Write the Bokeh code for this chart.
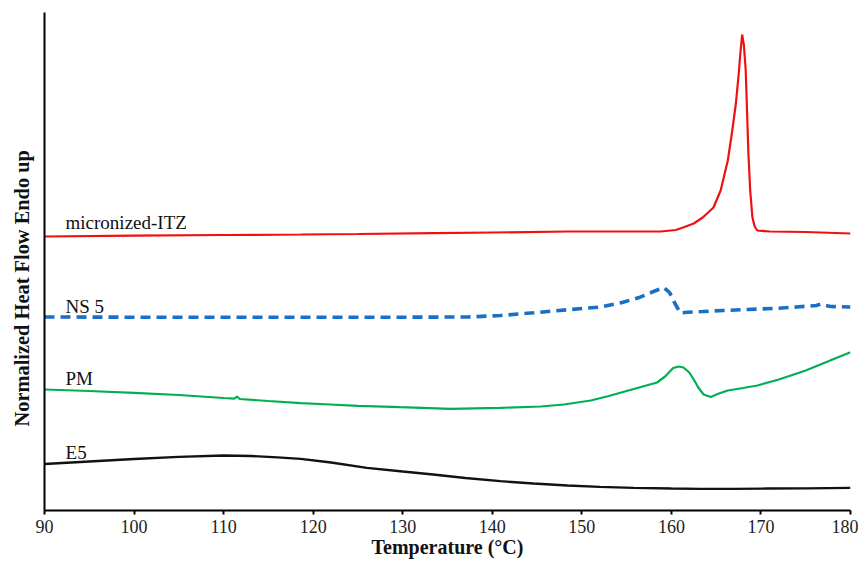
from bokeh.plotting import figure
from bokeh.models import Range1d, FixedTicker, Title
from bokeh.core.properties import value
from bokeh.embed import file_html
from bokeh.resources import INLINE

# ---- data (temperature in °C, normalized heat flow in arbitrary units, endo up) ----
itz_t = [90, 100, 110, 118.6, 125, 133.4, 140, 148.4, 155, 158.8, 160.5, 161.3, 162.5, 163.5,
         164.7, 165.5, 166.3, 166.8, 167.2, 167.5, 167.7, 167.9, 168.1, 168.3, 168.6, 168.8,
         169.05, 169.3, 169.6, 171, 175, 180]
itz_hf = [274, 274.8, 275.5, 276, 276.5, 277.3, 278, 279, 279, 279, 280.5, 283, 287, 293,
          303, 320, 350, 380, 407, 435, 457, 476, 465, 440, 357, 320,
          293, 284, 280, 279, 278.5, 277]

ns5_t = [90, 100, 110, 120, 130, 137.2, 140.9, 144.6, 148.4, 152.1, 154.5, 156.5, 158, 159.15,
         159.8, 160.4, 161.0, 161.8, 163.5, 165.8, 168.5, 171.4, 174, 176.2, 176.65, 177.1,
         177.75, 180]
ns5_hf = [193.5, 193.3, 193.3, 193.3, 193.3, 193.5, 195, 197.7, 200.7, 203.5, 208, 213.3, 219, 223,
          218, 207, 197.5, 198.3, 199, 200, 201, 202, 203.5, 205, 206.5, 205.5,
          204, 203.5]

pm_t = [90, 95, 100, 105, 110, 111.2, 111.5, 111.8, 115, 118.6, 121.9, 125, 129.75, 135.3,
        140.9, 145.4, 148, 151.0, 153, 155, 157, 158.4, 159.3, 160.2, 160.8, 161.35, 162,
        162.5, 163, 163.6, 164.4, 165.3, 166.3, 168, 169.6, 172, 175, 178, 180]
pm_hf = [121, 119.5, 117.7, 115.5, 112.5, 111.8, 114, 111.5, 109.5, 107.3, 106, 104.7, 103.3, 101.7,
         102.7, 104, 106, 110, 114.5, 119.5, 124.5, 128, 134, 142.5, 144, 143, 138,
         131, 123, 116, 113.5, 117, 120, 122.5, 125, 131, 140, 151, 158.3]

e5_t = [90, 95, 100, 105, 110, 113, 116, 118.6, 122, 126, 130, 133.4, 137, 140.9, 144.6, 148.4,
        152, 155.8, 160, 163.2, 167, 170.7, 175, 180]
e5_hf = [46.5, 49, 51.5, 53.7, 55, 54.5, 53.2, 51.7, 48, 42.7, 39, 36, 32.5, 29.3, 27, 25,
         23.7, 22.7, 22, 21.7, 21.7, 22, 22.2, 22.7]

series_names = ["micronized-ITZ", "NS 5", "PM", "E5"]
x_ticks = [90, 100, 110, 120, 130, 140, 150, 160, 170, 180]
x_title = "Temperature (°C)"
y_title = "Normalized Heat Flow Endo up"

# ---- label placement ----
label_x = [92.35, 92.35, 92.35, 92.35]
label_y = [288, 204, 132, 58.3]

SERIF = "Liberation Serif"

p = figure(width=858, height=560, output_backend="svg", toolbar_location=None,
           x_range=Range1d(90, 180), y_range=Range1d(0, 498),
           min_border_left=44, min_border_right=8, min_border_top=12, min_border_bottom=50)
p.outline_line_color = None
p.grid.visible = False
p.background_fill_color = "white"

p.xaxis.ticker = FixedTicker(ticks=x_ticks)
p.xaxis.axis_line_width = 2
p.xaxis.axis_line_color = "black"
p.xaxis.major_tick_line_width = 2
p.xaxis.major_tick_line_color = "black"
p.xaxis.major_tick_out = 4
p.xaxis.major_tick_in = 0
p.xaxis.minor_tick_out = 0
p.xaxis.minor_tick_in = 0
p.xaxis.major_label_text_font = SERIF
p.xaxis.major_label_text_font_size = "18px"
p.xaxis.major_label_text_color = "#222222"
p.xaxis.major_label_standoff = 5
p.xaxis.axis_label = x_title
p.xaxis.axis_label_text_font = SERIF
p.xaxis.axis_label_text_font_size = "20px"
p.xaxis.axis_label_text_font_style = "bold"
p.xaxis.axis_label_text_color = "#111111"
p.xaxis.axis_label_standoff = 0

p.yaxis.ticker = FixedTicker(ticks=[])
p.yaxis.axis_line_width = 2
p.yaxis.axis_line_color = "black"
p.yaxis.major_tick_out = 0
p.yaxis.major_tick_in = 0
p.yaxis.minor_tick_out = 0
p.yaxis.minor_tick_in = 0
p.yaxis.major_label_text_font_size = "0px"

p.line(e5_t, e5_hf, line_color="#111111", line_width=2.3)
p.line(pm_t, pm_hf, line_color="#00b050", line_width=2.2)
p.line(ns5_t, ns5_hf, line_color="#1a6fc4", line_width=3.6, line_dash="10 6")
p.line(itz_t, itz_hf, line_color="#f01010", line_width=2.2)

p.text(x=label_x, y=label_y, text=series_names, text_font=value(SERIF),
       text_font_size="19px", text_color="#111111", text_baseline="alphabetic",
       text_align="left")

ytitle = Title(text=y_title, align="left", offset=84, vertical_align="top",
               text_font=SERIF, text_font_size="20.4px", text_font_style="bold",
               text_color="#111111", standoff=19)
p.add_layout(ytitle, "left")

open("out.html", "w").write(file_html(p, INLINE))
